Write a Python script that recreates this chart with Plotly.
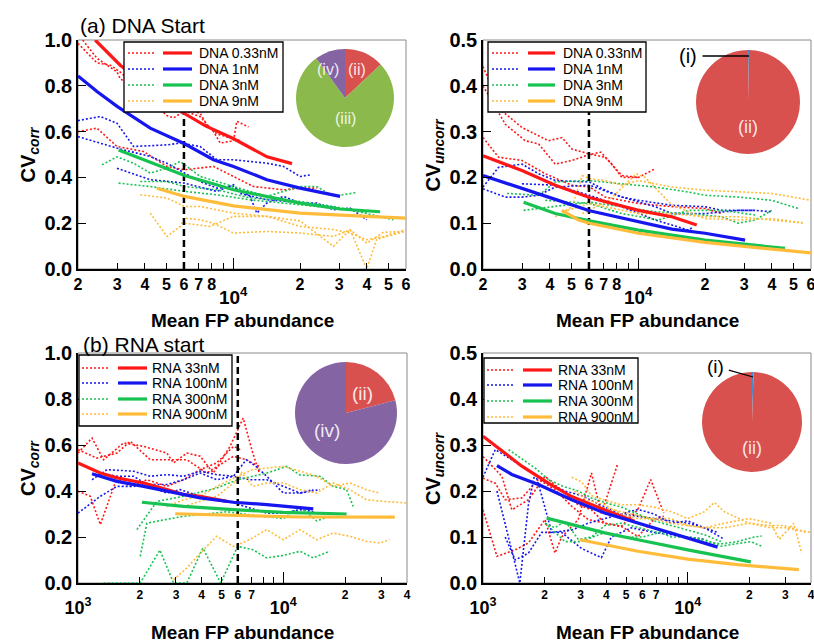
import math
import plotly.graph_objects as go

W, H = 814, 643
FONT = "Arial, 'Liberation Sans', Helvetica, sans-serif"

RED = "#FF1717"
BLUE = "#1616EE"
GREEN = "#17C251"
ORANGE = "#FFBC3A"
COLORS = [RED, BLUE, GREEN, ORANGE]

PIE_RED = "#D9514E"
PIE_GREEN = "#8CB94B"
PIE_PURPLE = "#8464A3"
PIE_BLUE = "#3D8BD0"

DNA_LABELS = ["DNA 0.33nM", "DNA 1nM", "DNA 3nM", "DNA 9nM"]
RNA_LABELS = ["RNA 33nM", "RNA 100nM", "RNA 300nM", "RNA 900nM"]

CUTOFF = 6000  # abundance threshold marked by the dashed line

# ---------------- (a) DNA start, correlated CV ----------------
DNA_CORR_RED_FIT = ([2390, 3100, 6000, 7500, 10000, 14200, 18400],
                    [1.00, 0.89, 0.68, 0.625, 0.57, 0.49, 0.46])
DNA_CORR_BLUE_FIT = ([2000, 2435, 3000, 4230, 6040, 8150, 10030, 14170, 20010, 30290],
                     [0.843, 0.775, 0.71, 0.615, 0.547, 0.477, 0.448, 0.39, 0.353, 0.317])
DNA_CORR_GREEN_FIT = ([3047, 6040, 10030, 20010, 30290, 45850],
                      [0.52, 0.408, 0.346, 0.288, 0.262, 0.25])
DNA_CORR_ORANGE_FIT = ([4530, 6040, 10030, 20010, 39930, 60000],
                       [0.353, 0.317, 0.276, 0.244, 0.23, 0.222])

DNA_CORR_RED_RUNS = [
    ([2000, 2435, 2796, 3100, 5028, 5387, 6040, 7100, 8152, 8737, 10030, 10380, 11720],
     [0.985, 0.90, 0.89, 0.86, 0.67, 0.66, 0.69, 0.665, 0.60, 0.55, 0.56, 0.645, 0.62]),
    ([2100, 2435, 3000, 3100, 5387, 6040, 7100, 7608, 8442, 10030, 10750],
     [1.0, 0.92, 0.86, 0.83, 0.70, 0.70, 0.68, 0.63, 0.59, 0.57, 0.56]),
    ([2000, 2435, 2995, 3948, 5028, 6037, 8152, 10030, 12340, 16840, 20010, 23790],
     [0.60, 0.615, 0.535, 0.513, 0.448, 0.433, 0.448, 0.404, 0.36, 0.346, 0.353, 0.353]),
]
DNA_CORR_BLUE_RUNS = [
    ([2000, 2521, 2995, 3559, 5028, 5772, 7100, 8442, 10030, 14170, 16840, 20010, 22200],
     [0.648, 0.666, 0.637, 0.535, 0.542, 0.55, 0.535, 0.477, 0.477, 0.462, 0.448, 0.404, 0.411]),
    ([2000, 2521, 2995, 4231, 5028, 6037, 7100, 8442, 10030, 11920, 12770, 14170, 16840,
      20010, 23790, 28270, 33600, 39930],
     [0.578, 0.55, 0.528, 0.491, 0.462, 0.419, 0.382, 0.353, 0.36, 0.317, 0.244, 0.288, 0.317,
      0.288, 0.288, 0.259, 0.266, 0.215]),
    ([2995, 4231, 6037, 8442, 10030, 10750, 14170, 20010, 28270],
     [0.44, 0.39, 0.375, 0.339, 0.368, 0.33, 0.302, 0.29, 0.27]),
]
DNA_CORR_GREEN_RUNS = [
    ([2565, 2995, 3559, 4231, 5028, 5772, 7100, 10030, 14170, 20010, 23790, 28270, 36000],
     [0.455, 0.49, 0.462, 0.419, 0.44, 0.47, 0.404, 0.36, 0.317, 0.36, 0.36, 0.317, 0.334]),
    ([3047, 4231, 6037, 8442, 11920, 16840, 23790, 33600, 52630],
     [0.375, 0.36, 0.339, 0.324, 0.302, 0.288, 0.273, 0.259, 0.215]),
    ([3814, 5028, 6037, 8442, 11920, 20010, 28270, 39930],
     [0.382, 0.382, 0.36, 0.346, 0.31, 0.295, 0.273, 0.244]),
]
DNA_CORR_ORANGE_RUNS = [
    ([3814, 5028, 6037, 7100, 10030, 14170, 20010, 28270, 33600, 39930, 47460, 60000],
     [0.324, 0.31, 0.273, 0.273, 0.244, 0.23, 0.186, 0.172, 0.157, 0.128, 0.142, 0.172]),
    ([4231, 5028, 5772, 6037, 7100, 8152, 10030, 14170, 20010, 28270, 33600, 39930, 47460, 60000],
     [0.244, 0.142, 0.186, 0.222, 0.215, 0.20, 0.157, 0.164, 0.157, 0.142, 0.172, 0.113, 0.16, 0.165]),
    ([6037, 7877, 10030, 14170, 20010, 28270, 33600, 39930, 44290, 60000],
     [0.20, 0.186, 0.23, 0.23, 0.21, 0.099, 0.172, 0.0, 0.13, 0.165]),
]

# ---------------- (a) DNA start, uncorrelated CV ----------------
DNA_UNCORR_RED_FIT = ([2000, 2995, 4231, 6037, 10030, 14170, 18350],
                      [0.247, 0.215, 0.183, 0.156, 0.128, 0.114, 0.096])
DNA_UNCORR_BLUE_FIT = ([2000, 2995, 4231, 6037, 10030, 14170, 20010, 30290],
                       [0.204, 0.175, 0.152, 0.127, 0.103, 0.087, 0.078, 0.063])
DNA_UNCORR_GREEN_FIT = ([3047, 4231, 6037, 10030, 20010, 45850],
                        [0.146, 0.121, 0.105, 0.085, 0.063, 0.045])
DNA_UNCORR_ORANGE_FIT = ([4533, 5387, 6037, 10030, 20010, 60000],
                         [0.128, 0.107, 0.10, 0.078, 0.058, 0.035])

DNA_UNCORR_RED_RUNS = [
    ([2000, 2435, 2995, 3948, 4533, 5028, 6037, 7100, 8442, 10030, 11920],
     [0.442, 0.345, 0.309, 0.28, 0.287, 0.262, 0.251, 0.244, 0.204, 0.20, 0.219]),
    ([2000, 2521, 3100, 3559, 4231, 5028, 6037, 6800, 7608, 8442, 10030],
     [0.40, 0.316, 0.28, 0.273, 0.229, 0.237, 0.25, 0.255, 0.229, 0.20, 0.20]),
    ([2000, 2350, 2995, 3814, 5028, 6037, 7100, 10030, 14170, 20010, 23790],
     [0.287, 0.244, 0.237, 0.208, 0.183, 0.179, 0.157, 0.143, 0.136, 0.132, 0.121]),
]
DNA_UNCORR_BLUE_RUNS = [
    ([2000, 2350, 2995, 3559, 4231, 6037, 7100, 8442, 10030, 14170, 20010, 23790, 33600, 39930],
     [0.179, 0.222, 0.229, 0.208, 0.193, 0.19, 0.172, 0.157, 0.15, 0.139, 0.136, 0.128, 0.128, 0.125]),
    ([2000, 2521, 2995, 3559, 4231, 6037, 8442, 11920, 14170, 20010, 28270, 33600],
     [0.175, 0.157, 0.157, 0.161, 0.179, 0.183, 0.157, 0.136, 0.121, 0.121, 0.128, 0.128]),
    ([2995, 4231, 6037, 8442, 11920, 16840, 17700],
     [0.186, 0.183, 0.161, 0.136, 0.107, 0.085, 0.092]),
]
DNA_UNCORR_GREEN_RUNS = [
    ([2565, 3559, 4231, 6037, 8442, 11920, 16840, 20010, 28270, 39930, 52630],
     [0.165, 0.161, 0.19, 0.193, 0.186, 0.179, 0.168, 0.161, 0.157, 0.15, 0.132]),
    ([3047, 4231, 6037, 8442, 11920, 16840, 23790, 28270, 33600, 39930],
     [0.128, 0.136, 0.146, 0.136, 0.125, 0.121, 0.114, 0.10, 0.107, 0.128]),
    ([3814, 6037, 8442, 12340, 16840, 23790, 33600],
     [0.15, 0.143, 0.121, 0.107, 0.128, 0.128, 0.118]),
]
DNA_UNCORR_ORANGE_RUNS = [
    ([4231, 5028, 5600, 6037, 7100, 8442, 10030, 14170, 20010, 28270, 39930, 60000],
     [0.114, 0.136, 0.204, 0.197, 0.193, 0.183, 0.193, 0.179, 0.172, 0.168, 0.165, 0.15]),
    ([4800, 6037, 7100, 10030, 14170, 20010, 28270, 39930, 56000],
     [0.128, 0.143, 0.136, 0.121, 0.121, 0.114, 0.114, 0.107, 0.10]),
    ([5600, 7400, 9800, 10750, 14170, 20010, 28270, 39930, 55000],
     [0.121, 0.15, 0.208, 0.20, 0.14, 0.11, 0.107, 0.11, 0.101]),
]

# ---------------- (b) RNA start, correlated CV ----------------
RNA_CORR_RED_FIT = ([1000, 1284, 1548, 2086, 2708, 3299, 3934, 5302],
                    [0.522, 0.478, 0.457, 0.435, 0.406, 0.384, 0.377, 0.355])
RNA_CORR_BLUE_FIT = ([1170, 1548, 2086, 2708, 3934, 5714, 8299, 13990],
                     [0.475, 0.442, 0.42, 0.40, 0.37, 0.351, 0.341, 0.322])
RNA_CORR_GREEN_FIT = ([2047, 3262, 5714, 10000, 20320],
                      [0.351, 0.333, 0.319, 0.307, 0.30])
RNA_CORR_ORANGE_FIT = ([2974, 5714, 12050, 34880],
                       [0.301, 0.293, 0.287, 0.286])

RNA_CORR_RED_RUNS = [
    ([1000, 1170, 1333, 1667, 2086, 2708, 2918, 3387, 3934, 4563, 5499, 6373, 7096, 7640],
     [0.565, 0.63, 0.536, 0.609, 0.594, 0.565, 0.522, 0.565, 0.551, 0.478, 0.594, 0.717, 0.565, 0.478]),
    ([1000, 1237, 1548, 1796, 2247, 2918, 3387, 4237, 5714, 6591, 7640],
     [0.58, 0.543, 0.565, 0.616, 0.536, 0.536, 0.536, 0.478, 0.551, 0.536, 0.507]),
    ([1000, 1148, 1284, 1548, 1796, 2165, 2708, 3262, 3934, 4736, 5714, 6168],
     [0.399, 0.377, 0.254, 0.457, 0.42, 0.449, 0.42, 0.449, 0.493, 0.522, 0.594, 0.58]),
]
RNA_CORR_BLUE_RUNS = [
    ([1170, 1383, 1864, 2247, 2708, 3262, 3934, 4736, 5714, 6839, 8299, 10000, 12050, 15070],
     [0.449, 0.493, 0.486, 0.464, 0.471, 0.464, 0.486, 0.471, 0.464, 0.449, 0.449, 0.42, 0.391, 0.406]),
    ([1000, 1284, 1548, 1864, 2086, 2708, 3262, 3934, 4736, 5714, 6591, 7360, 8299, 10000, 12050, 13990],
     [0.304, 0.377, 0.42, 0.42, 0.428, 0.428, 0.449, 0.478, 0.449, 0.464, 0.536, 0.507, 0.464, 0.391,
      0.391, 0.406]),
    ([1284, 1548, 1864, 2247, 2708, 3146, 3934, 4915, 5714, 6839, 8299, 10000, 12050, 13990],
     [0.478, 0.464, 0.464, 0.42, 0.391, 0.406, 0.377, 0.362, 0.348, 0.326, 0.304, 0.304, 0.319, 0.31]),
]
RNA_CORR_GREEN_RUNS = [
    ([1935, 2421, 3262, 4736, 5988, 8299, 10385, 12050, 15070, 17490, 20320, 21880],
     [0.232, 0.355, 0.377, 0.413, 0.449, 0.478, 0.507, 0.47, 0.464, 0.42, 0.406, 0.333]),
    ([2009, 2165, 2466, 3262, 4237, 5302, 6373, 8299, 10000, 12050, 14520, 16850],
     [0.116, 0.26, 0.27, 0.29, 0.30, 0.31, 0.30, 0.29, 0.28, 0.33, 0.27, 0.29]),
    ([1333, 2009, 2506, 2918, 3387, 4056, 4955, 5988, 7096, 8299, 10000, 12050, 13990, 16850],
     [0.0, 0.0, 0.143, 0.0, 0.0, 0.152, 0.0, 0.159, 0.145, 0.109, 0.12, 0.138, 0.109, 0.138]),
]
RNA_CORR_ORANGE_RUNS = [
    ([2708, 3262, 3934, 4736, 5988, 7096, 8299, 10000, 12050, 14520, 17490, 21090, 25370, 29450],
     [0.333, 0.362, 0.377, 0.42, 0.464, 0.493, 0.50, 0.507, 0.486, 0.464, 0.42, 0.435, 0.406, 0.391]),
    ([3262, 4736, 5988, 6270, 7096, 8299, 10000, 12050, 14520, 17490, 21090, 25370, 30570, 39700],
     [0.333, 0.377, 0.449, 0.48, 0.42, 0.435, 0.435, 0.406, 0.391, 0.435, 0.406, 0.362, 0.355, 0.348]),
    ([2918, 3387, 3934, 4736, 5714, 6839, 8299, 10000, 12050, 14520, 17490, 21090, 25370, 29450, 32920],
     [0.014, 0.065, 0.13, 0.203, 0.159, 0.188, 0.232, 0.188, 0.232, 0.188, 0.217, 0.203, 0.181, 0.174,
      0.188]),
]

# ---------------- (b) RNA start, uncorrelated CV ----------------
RNA_UNCORR_RED_FIT = ([1000, 1284, 1548, 2086, 2708, 3934, 5499],
                      [0.319, 0.283, 0.254, 0.217, 0.188, 0.159, 0.134])
RNA_UNCORR_BLUE_FIT = ([1170, 1383, 1864, 2708, 3934, 5714, 8299, 13990],
                       [0.255, 0.236, 0.214, 0.181, 0.152, 0.13, 0.109, 0.078])
RNA_UNCORR_GREEN_FIT = ([2047, 2708, 3934, 5714, 10000, 20320],
                        [0.141, 0.127, 0.109, 0.094, 0.072, 0.046])
RNA_UNCORR_ORANGE_FIT = ([2974, 3934, 5714, 10000, 17490, 34880],
                         [0.094, 0.083, 0.069, 0.052, 0.04, 0.029])

RNA_UNCORR_RED_RUNS = [
    ([1000, 1170, 1436, 1667, 2009, 2247, 2421, 2918, 3387, 3788, 4563],
     [0.159, 0.058, 0.072, 0.087, 0.138, 0.065, 0.10, 0.138, 0.239, 0.15, 0.261]),
    ([1000, 1237, 1383, 1667, 2009, 2513, 2918, 3387, 3934, 4736, 5714, 6591, 7640],
     [0.275, 0.232, 0.159, 0.181, 0.232, 0.196, 0.17, 0.159, 0.13, 0.123, 0.16, 0.225, 0.152]),
    ([1000, 1148, 1284, 1548, 1864, 2247, 2708, 3262, 3934, 4736, 5714, 6839, 7640],
     [0.228, 0.217, 0.181, 0.185, 0.225, 0.203, 0.167, 0.138, 0.13, 0.123, 0.101, 0.138, 0.145]),
]
RNA_UNCORR_BLUE_RUNS = [
    ([1000, 1148, 1383, 1667, 2009, 2513, 3030, 3934, 4736, 5714, 6839, 8299, 10000, 12050, 15070],
     [0.23, 0.29, 0.268, 0.245, 0.22, 0.20, 0.19, 0.165, 0.15, 0.145, 0.14, 0.135, 0.13, 0.12, 0.095]),
    ([1170, 1333, 1513, 1667, 1796, 1935, 2165, 2708, 3262, 3934, 4736, 5714, 6839, 8299, 10000,
      12050, 13990],
     [0.20, 0.10, 0.0, 0.17, 0.24, 0.19, 0.11, 0.115, 0.13, 0.14, 0.15, 0.16, 0.15, 0.13, 0.135,
      0.12, 0.11]),
    ([1284, 1436, 1667, 1935, 2421, 3030, 3788, 4237, 5302, 6839, 8299, 10000, 12050],
     [0.10, 0.05, 0.065, 0.11, 0.11, 0.075, 0.055, 0.10, 0.12, 0.11, 0.105, 0.10, 0.095]),
]
RNA_UNCORR_GREEN_RUNS = [
    ([1333, 1548, 1796, 2086, 2466, 2918, 3387, 3934, 4736, 5714, 6839, 8299, 10000, 12050, 14520],
     [0.29, 0.27, 0.25, 0.225, 0.21, 0.20, 0.185, 0.175, 0.165, 0.15, 0.135, 0.125, 0.115, 0.105, 0.09]),
    ([2009, 2247, 2513, 2918, 3387, 3934, 4736, 5714, 7096, 8299, 10000, 12050, 14520, 17490, 21090,
      23000],
     [0.13, 0.12, 0.135, 0.095, 0.10, 0.125, 0.13, 0.12, 0.11, 0.11, 0.10, 0.09, 0.085, 0.09, 0.10,
      0.102]),
    ([2009, 2513, 3030, 3934, 4915, 5988, 7360, 8299, 10000, 12050, 14520, 17490, 20320, 23000],
     [0.13, 0.09, 0.09, 0.11, 0.10, 0.10, 0.11, 0.10, 0.10, 0.095, 0.08, 0.085, 0.09, 0.08]),
]
RNA_UNCORR_ORANGE_RUNS = [
    ([2708, 3030, 3387, 3934, 4736, 5714, 6839, 8299, 10000, 12050, 13500, 15070, 19920, 25370, 29450,
      35000, 39700],
     [0.23, 0.22, 0.19, 0.18, 0.17, 0.17, 0.165, 0.155, 0.14, 0.155, 0.175, 0.155, 0.13, 0.125, 0.125,
      0.115, 0.11]),
    ([2800, 3262, 3934, 4736, 5714, 6839, 8299, 10000, 12050, 15070, 19920, 25370, 28000, 32920, 36000],
     [0.20, 0.18, 0.17, 0.15, 0.14, 0.14, 0.14, 0.125, 0.12, 0.13, 0.14, 0.13, 0.095, 0.13, 0.065]),
    ([3387, 4237, 5302, 6839, 8299, 10000, 12050, 15070, 19920, 25370, 30570, 38000],
     [0.17, 0.16, 0.15, 0.14, 0.13, 0.125, 0.12, 0.12, 0.13, 0.12, 0.12, 0.11]),
]

# ---------------- inset pie charts: share of each regime ----------------
PIE_DNA_CORR_LABELS = ["(ii)", "(iii)", "(iv)"]
PIE_DNA_CORR_VALUES = [13, 77, 10]
PIE_DNA_UNCORR_LABELS = ["(i)", "(ii)"]
PIE_DNA_UNCORR_VALUES = [0.3, 99.7]
PIE_RNA_CORR_LABELS = ["(ii)", "(iv)"]
PIE_RNA_CORR_VALUES = [21, 79]
PIE_RNA_UNCORR_LABELS = ["(i)", "(ii)"]
PIE_RNA_UNCORR_VALUES = [0.5, 99.5]
PIE_COLOR = {"(i)": PIE_BLUE, "(ii)": PIE_RED, "(iii)": PIE_GREEN, "(iv)": PIE_PURPLE}

# x-axis digit ticks (labelled), bare ticks and decade ticks
A_TICKVALS = [2000, 3000, 4000, 5000, 6000, 7000, 8000, 20000, 30000, 40000, 50000, 60000]
A_TICKTEXT = ["2", "3", "4", "5", "6", "7", "8", "2", "3", "4", "5", "6"]
A_BARE_TICKS = [9000]
A_DECADES = [10000]
B_TICKVALS = [2000, 3000, 4000, 5000, 6000, 7000, 20000, 30000, 40000]
B_TICKTEXT = ["2", "3", "4", "5", "6", "7", "2", "3", "4"]
B_BARE_TICKS = [8000, 9000]
B_DECADES = [1000, 10000]


def fx(px):
    return px / W


def fy(py):
    return 1 - py / H


panels = [
    dict(n=1, box=(78, 40, 406, 269), xr=(2000, 60000), ymax=1.0, ystep=0.2,
         fits=[DNA_CORR_RED_FIT, DNA_CORR_BLUE_FIT, DNA_CORR_GREEN_FIT, DNA_CORR_ORANGE_FIT],
         runs=[DNA_CORR_RED_RUNS, DNA_CORR_BLUE_RUNS, DNA_CORR_GREEN_RUNS, DNA_CORR_ORANGE_RUNS],
         cutoff=True, tickvals=A_TICKVALS, ticktext=A_TICKTEXT, bare=A_BARE_TICKS, tickfs=16,
         decades=A_DECADES, decade_off=15, decade_fs=19, ytitle="corr", xtitle_y=320),
    dict(n=2, box=(483, 40, 811, 269), xr=(2000, 60000), ymax=0.5, ystep=0.1,
         fits=[DNA_UNCORR_RED_FIT, DNA_UNCORR_BLUE_FIT, DNA_UNCORR_GREEN_FIT, DNA_UNCORR_ORANGE_FIT],
         runs=[DNA_UNCORR_RED_RUNS, DNA_UNCORR_BLUE_RUNS, DNA_UNCORR_GREEN_RUNS, DNA_UNCORR_ORANGE_RUNS],
         cutoff=True, tickvals=A_TICKVALS, ticktext=A_TICKTEXT, bare=A_BARE_TICKS, tickfs=16,
         decades=A_DECADES, decade_off=15, decade_fs=19, ytitle="uncorr", xtitle_y=320),
    dict(n=3, box=(78, 353, 407, 583), xr=(1000, 40000), ymax=1.0, ystep=0.2,
         fits=[RNA_CORR_RED_FIT, RNA_CORR_BLUE_FIT, RNA_CORR_GREEN_FIT, RNA_CORR_ORANGE_FIT],
         runs=[RNA_CORR_RED_RUNS, RNA_CORR_BLUE_RUNS, RNA_CORR_GREEN_RUNS, RNA_CORR_ORANGE_RUNS],
         cutoff=True, tickvals=B_TICKVALS, ticktext=B_TICKTEXT, bare=B_BARE_TICKS, tickfs=12,
         decades=B_DECADES, decade_off=12, decade_fs=18, ytitle="corr", xtitle_y=632),
    dict(n=4, box=(483, 353, 811, 583), xr=(1000, 40000), ymax=0.5, ystep=0.1,
         fits=[RNA_UNCORR_RED_FIT, RNA_UNCORR_BLUE_FIT, RNA_UNCORR_GREEN_FIT, RNA_UNCORR_ORANGE_FIT],
         runs=[RNA_UNCORR_RED_RUNS, RNA_UNCORR_BLUE_RUNS, RNA_UNCORR_GREEN_RUNS, RNA_UNCORR_ORANGE_RUNS],
         cutoff=False, tickvals=B_TICKVALS, ticktext=B_TICKTEXT, bare=B_BARE_TICKS, tickfs=12,
         decades=B_DECADES, decade_off=12, decade_fs=18, ytitle="uncorr", xtitle_y=632),
]

fig = go.Figure()
shapes = []
annotations = []
layout_axes = {}


def text_ann(text, px, py, size, color="black", xanchor="center", angle=0):
    return dict(x=fx(px), y=fy(py), xref="paper", yref="paper", text=text, showarrow=False,
                xanchor=xanchor, yanchor="middle", textangle=angle,
                font=dict(family=FONT, size=size, color=color))


for p in panels:
    n = p["n"]
    sfx = "" if n == 1 else str(n)
    xref, yref = "x" + sfx, "y" + sfx
    x0, y0, x1, y1 = p["box"]
    xrange_log = [math.log10(p["xr"][0]), math.log10(p["xr"][1])]

    # noisy single-run traces
    for color, runs in zip(COLORS, p["runs"]):
        for xs, ys in runs:
            fig.add_trace(go.Scatter(x=xs, y=ys, mode="lines", xaxis=xref, yaxis=yref,
                                     line=dict(color=color, width=1.6, dash="2px,2px"),
                                     showlegend=False, hoverinfo="skip"))
    # cutoff marker
    if p["cutoff"]:
        fig.add_trace(go.Scatter(x=[CUTOFF, CUTOFF], y=[0, p["ymax"]], mode="lines",
                                 xaxis=xref, yaxis=yref,
                                 line=dict(color="black", width=2.5, dash="7px,4px"),
                                 showlegend=False, hoverinfo="skip"))
    # fitted curves
    for color, (xs, ys) in zip(COLORS, p["fits"]):
        fig.add_trace(go.Scatter(x=xs, y=ys, mode="lines", xaxis=xref, yaxis=yref,
                                 line=dict(color=color, width=3.2),
                                 showlegend=False, hoverinfo="skip"))

    ntick = int(round(p["ymax"] / p["ystep"]))
    layout_axes["xaxis" + sfx] = dict(
        domain=[fx(x0), fx(x1)], anchor=yref, type="log", range=xrange_log,
        tickmode="array", tickvals=p["tickvals"], ticktext=p["ticktext"],
        ticks="inside", ticklen=6, tickwidth=1.3, tickcolor="black", ticklabeloverflow="allow",
        minor=dict(tickmode="array", tickvals=p["bare"], ticks="inside", ticklen=6,
                   tickwidth=1.3, tickcolor="black", showgrid=False),
        tickfont=dict(family=FONT, size=p["tickfs"], color="black", weight="bold"),
        showline=True, linecolor="black", linewidth=1.6, showgrid=False, zeroline=False,
        fixedrange=True)
    # companion axis carrying the longer decade ticks and their 10^n labels
    dn = n + 4
    layout_axes["xaxis%d" % dn] = dict(
        overlaying=xref, anchor=yref, side="bottom", type="log", range=xrange_log,
        tickmode="array", tickvals=p["decades"],
        ticktext=["<b>10<sup>%d</sup></b>" % round(math.log10(d)) for d in p["decades"]],
        ticks="inside", ticklen=11, tickwidth=1.3, tickcolor="black",
        ticklabelstandoff=p["decade_off"], ticklabeloverflow="allow",
        tickfont=dict(family=FONT, size=p["decade_fs"], color="black"),
        showline=False, showgrid=False, zeroline=False, fixedrange=True)
    layout_axes["yaxis" + sfx] = dict(
        domain=[fy(y1), fy(y0)], anchor=xref, range=[0, p["ymax"]],
        tickmode="array", tickvals=[round(i * p["ystep"], 2) for i in range(ntick + 1)],
        tickformat=".1f", ticks="inside", ticklen=8, tickwidth=1.3, tickcolor="black",
        ticklabeloverflow="allow",
        tickfont=dict(family=FONT, size=20, color="black", weight="bold"),
        showline=True, linecolor="black", linewidth=1.6, showgrid=False, zeroline=False,
        fixedrange=True)
    # an invisible point keeps the companion axis active
    fig.add_trace(go.Scatter(x=[p["decades"][-1]], y=[0], xaxis="x%d" % dn, yaxis=yref,
                             mode="markers", marker=dict(size=1, opacity=0),
                             showlegend=False, hoverinfo="skip"))

    # light frame around the plotting area
    shapes.append(dict(type="rect", xref=xref + " domain", yref=yref + " domain",
                       x0=0, x1=1, y0=0, y1=1, line=dict(color="#8a8a8a", width=1),
                       layer="below"))

    # axis titles
    annotations.append(text_ann("<b>Mean FP abundance</b>", (x0 + x1) / 2, p["xtitle_y"], 19))
    annotations.append(text_ann("<b>CV<sub><i>%s</i></sub></b>" % p["ytitle"], x0 - 49,
                                (y0 + y1) / 2, 20, angle=-90))

# panel titles
annotations.append(text_ann("(a) DNA Start", 78, 25, 21, xanchor="left"))
annotations.append(text_ann("(b) RNA start", 81, 344, 21, xanchor="left"))

# legends: a dotted and a solid sample per concentration
legends = [
    dict(box=(124, 42, 283, 112), rows=[53, 69, 85, 101], dot=(128, 155), solid=(163, 192), tx=197,
         labels=DNA_LABELS),
    dict(box=(488, 42, 646, 112), rows=[53, 69, 85, 101], dot=(492, 518), solid=(528, 555), tx=561,
         labels=DNA_LABELS),
    dict(box=(79, 355, 232, 426), rows=[368, 383, 399, 414], dot=(82, 110), solid=(118, 147), tx=150,
         labels=RNA_LABELS),
    dict(box=(484, 358, 638, 423), rows=[370, 385, 401, 417], dot=(487, 515), solid=(523, 552), tx=556,
         labels=RNA_LABELS),
]
for lg in legends:
    bx0, by0, bx1, by1 = lg["box"]
    shapes.append(dict(type="rect", xref="paper", yref="paper", x0=fx(bx0), x1=fx(bx1),
                       y0=fy(by1), y1=fy(by0), fillcolor="white",
                       line=dict(color="black", width=1.3), layer="above"))
    for color, ry, label in zip(COLORS, lg["rows"], lg["labels"]):
        shapes.append(dict(type="line", xref="paper", yref="paper", x0=fx(lg["dot"][0]),
                           x1=fx(lg["dot"][1]), y0=fy(ry), y1=fy(ry), layer="above",
                           line=dict(color=color, width=1.6, dash="2px,2px")))
        shapes.append(dict(type="line", xref="paper", yref="paper", x0=fx(lg["solid"][0]),
                           x1=fx(lg["solid"][1]), y0=fy(ry), y1=fy(ry), layer="above",
                           line=dict(color=color, width=3.2)))
        annotations.append(text_ann(label, lg["tx"], ry, 14, xanchor="left"))

# inset pies
pies = [
    (PIE_DNA_CORR_LABELS, PIE_DNA_CORR_VALUES, (345, 98, 49)),
    (PIE_DNA_UNCORR_LABELS, PIE_DNA_UNCORR_VALUES, (748, 102, 52)),
    (PIE_RNA_CORR_LABELS, PIE_RNA_CORR_VALUES, (346, 413, 51)),
    (PIE_RNA_UNCORR_LABELS, PIE_RNA_UNCORR_VALUES, (752, 422, 50)),
]
for labels, values, (cx, cy, r) in pies:
    fig.add_trace(go.Pie(labels=labels, values=values, sort=False, direction="clockwise",
                         rotation=0, textinfo="none", hoverinfo="skip", showlegend=False,
                         marker=dict(colors=[PIE_COLOR[l] for l in labels],
                                     line=dict(width=0)),
                         domain=dict(x=[fx(cx - r), fx(cx + r)], y=[fy(cy + r), fy(cy - r)])))

PIE_TEXT = "rgba(255,255,255,0.88)"
pie_labels = [
    ("(iv)", 328, 70, 16), ("(ii)", 357, 70, 16), ("(iii)", 345, 118, 16),
    ("(ii)", 748, 127, 18),
    ("(ii)", 362, 393, 19), ("(iv)", 327, 430, 19),
    ("(ii)", 752, 448, 18),
]
for text, px, py, fs in pie_labels:
    annotations.append(text_ann(text, px, py, fs, color=PIE_TEXT))

# callouts for the tiny (i) slices
for tip, tail, fs in [((749, 56), (688, 56), 20), ((753, 377), (715, 366), 19)]:
    annotations.append(dict(x=fx(tip[0]), y=fy(tip[1]), xref="paper", yref="paper",
                            ax=tail[0] - tip[0], ay=tail[1] - tip[1], text="(i)",
                            showarrow=True, arrowhead=0, arrowwidth=1.3, arrowcolor="black",
                            standoff=0, startstandoff=4,
                            font=dict(family=FONT, size=fs, color="black")))

fig.update_layout(
    width=W, height=H, margin=dict(l=0, r=0, t=0, b=0, autoexpand=False),
    paper_bgcolor="white", plot_bgcolor="white", showlegend=False,
    shapes=shapes, annotations=annotations, **layout_axes)

fig.write_html("out.html", config=dict(displayModeBar=False),
               post_script="document.body.style.margin='0';")
